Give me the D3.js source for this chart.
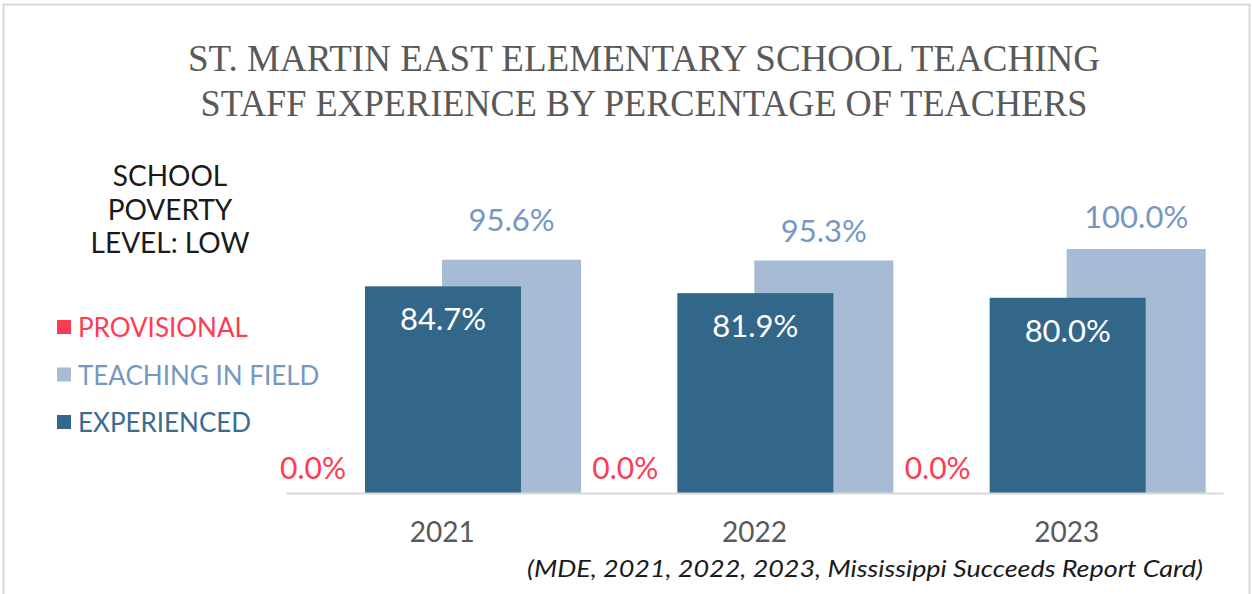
<!DOCTYPE html>
<html><head><meta charset="utf-8">
<script src="https://cdn.jsdelivr.net/npm/d3@7"></script>
<style>html,body{margin:0;padding:0;background:#fff;}svg{display:block;}</style>
</head><body>
<svg id="chart" width="1252" height="594"></svg>
<script>
const years = ["2021", "2022", "2023"];
const provisional = [0.0, 0.0, 0.0];
const teachingInField = [95.6, 95.3, 100.0];
const experienced = [84.7, 81.9, 80.0];
const titleLines = ["ST. MARTIN EAST ELEMENTARY SCHOOL TEACHING", "STAFF EXPERIENCE BY PERCENTAGE OF TEACHERS"];
const povertyLines = ["SCHOOL", "POVERTY", "LEVEL: LOW"];
const legendNames = ["PROVISIONAL", "TEACHING IN FIELD", "EXPERIENCED"];
const source = "(MDE,  2021, 2022, 2023, Mississippi Succeeds Report Card)";

// label gaps above the teaching-in-field bars (as placed in the original)
const tifLabelGap = [29, 18, 21];

const colors = {prov: "#ff3b52", tif: "#a7bcd4", exp: "#336789", tifText: "#7598c2", expText: "#3b6b8f"};
const sans = "'Lato', 'Open Sans', sans-serif";

const svg = d3.select("#chart");
svg.append("rect").attr("x", 3.5).attr("y", 4.5).attr("width", 1246).attr("height", 600)
  .attr("fill", "#fff").attr("stroke", "#d9d9d9").attr("stroke-width", 2);

// title
const tl = [{y: 71, len: 912}, {y: 116, len: 887}];
svg.append("g").selectAll("text").data(titleLines).join("text")
  .attr("x", 644).attr("y", (d, i) => tl[i].y).attr("text-anchor", "middle")
  .attr("textLength", (d, i) => tl[i].len).attr("lengthAdjust", "spacingAndGlyphs")
  .attr("font-family", "'Liberation Serif', serif").attr("font-size", 38).attr("fill", "#595959")
  .text(d => d);

// scales
const x = d3.scaleBand().domain(years).range([286, 1223]).paddingInner(0).paddingOuter(0);
const y = d3.scaleLinear().domain([0, 100]).range([493, 249]);

const bw = x.bandwidth();
const expOff = 79 / 312.3, tifOff = 156 / 312.3, expW = 156 / 312.3, tifW = 139 / 312.3, provC = 27 / 312.3;

const g = svg.append("g");
g.selectAll(".tif").data(years).join("rect").attr("class", "tif")
  .attr("x", d => x(d) + tifOff * bw).attr("width", tifW * bw)
  .attr("y", (d, i) => y(teachingInField[i])).attr("height", (d, i) => y(0) - y(teachingInField[i]))
  .attr("fill", colors.tif);
g.selectAll(".exp").data(years).join("rect").attr("class", "exp")
  .attr("x", d => x(d) + expOff * bw).attr("width", expW * bw)
  .attr("y", (d, i) => y(experienced[i])).attr("height", (d, i) => y(0) - y(experienced[i]))
  .attr("fill", colors.exp);
g.selectAll(".prov").data(years).join("rect").attr("class", "prov")
  .attr("x", d => x(d) + provC * bw - 20).attr("width", 40)
  .attr("y", (d, i) => y(provisional[i])).attr("height", (d, i) => y(0) - y(provisional[i]))
  .attr("fill", colors.prov);

const fmt = v => v.toFixed(1) + "%";
g.selectAll(".tifl").data(years).join("text")
  .attr("x", d => x(d) + (tifOff + tifW / 2) * bw).attr("y", (d, i) => y(teachingInField[i]) - tifLabelGap[i])
  .attr("text-anchor", "middle").attr("font-family", sans).attr("font-size", 31).attr("fill", colors.tifText)
  .text((d, i) => fmt(teachingInField[i]));
g.selectAll(".expl").data(years).join("text")
  .attr("x", d => x(d) + (expOff + expW / 2) * bw).attr("y", (d, i) => y(experienced[i]) + 44)
  .attr("text-anchor", "middle").attr("font-family", sans).attr("font-size", 31).attr("fill", "#fff")
  .text((d, i) => fmt(experienced[i]));
g.selectAll(".provl").data(years).join("text")
  .attr("x", d => x(d) + provC * bw).attr("y", (d, i) => y(provisional[i]) - 14)
  .attr("text-anchor", "middle").attr("font-family", sans).attr("font-size", 30).attr("fill", colors.prov)
  .text((d, i) => fmt(provisional[i]));

const xAxis = svg.append("g").attr("transform", `translate(0,${y(0)})`)
  .call(d3.axisBottom(x).tickSize(0).tickPadding(29));
xAxis.select(".domain").attr("stroke", "#d9d9d9").attr("stroke-width", 2);
xAxis.selectAll("text").attr("font-family", sans).attr("font-size", 28).attr("fill", "#595959");

svg.append("g").selectAll("text").data(povertyLines).join("text")
  .attr("x", 170).attr("y", (d, i) => 186 + i * 33.5).attr("text-anchor", "middle")
  .attr("font-family", sans).attr("font-size", 28).attr("fill", "#1a1a1a").text(d => d);

const legColors = [colors.prov, colors.tif, colors.exp];
const legText = [colors.prov, colors.tifText, colors.expText];
const leg = svg.append("g").selectAll("g").data(legendNames).join("g")
  .attr("transform", (d, i) => `translate(57,${327 + i * 47.5})`);
leg.append("rect").attr("x", 0).attr("y", -7).attr("width", 14).attr("height", 14).attr("fill", (d, i) => legColors[i]);
leg.append("text").attr("x", 21).attr("y", 10).attr("font-family", sans).attr("font-size", 26)
  .attr("fill", (d, i) => legText[i]).text(d => d);

svg.append("text").attr("x", 527).attr("y", 577)
  .attr("textLength", 676).attr("lengthAdjust", "spacingAndGlyphs")
  .attr("font-family", sans).attr("font-style", "italic").attr("font-size", 24).attr("fill", "#1a1a1a")
  .text(source);
</script>
</body></html>
